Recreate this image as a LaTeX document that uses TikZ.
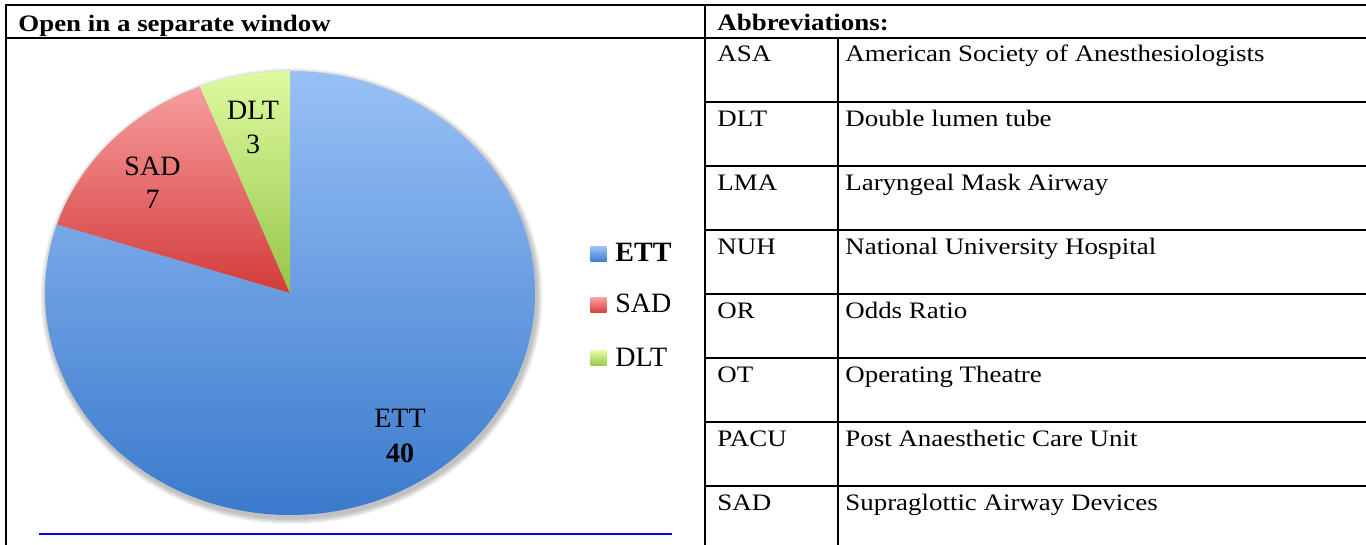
\documentclass[tikz,border=0pt]{standalone}
\usepackage{fontspec}
\setmainfont{Liberation Serif}[FakeStretch=1.14]
\newfontfamily\piefont{Liberation Serif}
\definecolor{ettTop}{RGB}{152,192,246}
\definecolor{ettBot}{RGB}{58,122,204}
\definecolor{sadTop}{RGB}{246,158,158}
\definecolor{sadBot}{RGB}{212,58,58}
\definecolor{dltTop}{RGB}{222,250,160}
\definecolor{dltBot}{RGB}{150,198,72}
\begin{document}
\begin{tikzpicture}[x=0.5pt,y=-0.5pt,
  rule/.style={line width=1pt, black, line cap=rect},
  celltext/.style={anchor=base west, inner sep=0pt, font=\fontsize{11.8}{14}\selectfont},
  headtext/.style={anchor=base west, inner sep=0pt, font=\fontsize{11.8}{14}\selectfont\bfseries},
  pielabel/.style={anchor=base, inner sep=0pt, font=\piefont\fontsize{14}{17}\selectfont},
  legtext/.style={anchor=base west, inner sep=0pt, font=\piefont\fontsize{14}{17}\selectfont},
  legsq/.style={minimum width=8pt, minimum height=7.5pt, inner sep=0pt},
  linkline/.style={line width=1pt, color={rgb,255:red,0;green,0;blue,255}}]
\useasboundingbox (0,0) rectangle (1366,545);
\fill[white] (0,0) rectangle (1366,545);
% table rules
\draw[rule] (6,5.5) -- (1366,5.5);
\draw[rule] (6,5.5) -- (6,545);
\draw[rule] (6,38) -- (1366,38);
\draw[rule] (705,5.5) -- (705,545);
\draw[rule] (838,38) -- (838,545);
\foreach \k in {1,...,7} \draw[rule] (705,{37.5+64.07*\k}) -- (1366,{37.5+64.07*\k});
% pie
\coordinate (pc) at (290,293);
\foreach \i in {1,...,6}
  \fill[black, opacity=0.045] ([shift={(0.8pt,-1.6pt)}]pc) ellipse [x radius={122.5pt+\i*0.5pt}, y radius={111pt+\i*0.5pt}];
\shade[top color=ettTop, bottom color=ettBot] (pc) -- ([shift={(90:122.5pt and 111pt)}]pc)
  arc[start angle=90, end angle=-198, x radius=122.5pt, y radius=111pt] -- cycle;
\shade[top color=sadTop, bottom color=sadBot] (pc) -- ([shift={(162:122.5pt and 111pt)}]pc)
  arc[start angle=162, end angle=111.6, x radius=122.5pt, y radius=111pt] -- cycle;
\shade[top color=dltTop, bottom color=dltBot] (pc) -- ([shift={(111.6:122.5pt and 111pt)}]pc)
  arc[start angle=111.6, end angle=90, x radius=122.5pt, y radius=111pt] -- cycle;
\node[pielabel] (dltname) at (253,119.5) {DLT};
\node[pielabel] (dltval) at (253,154) {3};
\node[pielabel] (sadname) at (152.5,175.5) {SAD};
\node[pielabel] (sadval) at (152.5,208.5) {7};
\node[pielabel] (ettname) at (400,428) {ETT};
\node[pielabel, font=\piefont\fontsize{14}{17}\selectfont\bfseries] (ettval) at (400,462) {40};
% legend
\node[legsq, top color=ettTop, bottom color=ettBot] (ettsq) at (598.5,254.5) {};
\node[legsq, top color=sadTop, bottom color=sadBot] (sadsq) at (598.5,305.5) {};
\node[legsq, top color=dltTop, bottom color=dltBot] (dltsq) at (598.5,358.5) {};
\node[legtext, font=\piefont\fontsize{14}{17}\selectfont\bfseries] (ettleg) at (615,262) {ETT};
\node[legtext] (sadleg) at (615,313) {SAD};
\node[legtext] (dltleg) at (615,366) {DLT};
% blue link line
\coordinate (blA) at (39,534);
\coordinate (blB) at (672,534);
\draw[linkline] (blA) -- (blB);
% texts
\node[headtext] (hdrleft) at (18,32) {Open in a separate window};
\node[headtext] (hdrright) at (717,31) {Abbreviations:};
\foreach \ab/\desc [count=\k from 0] in {ASA/American Society of Anesthesiologists,
  DLT/Double lumen tube, LMA/Laryngeal Mask Airway, NUH/National University Hospital,
  OR/Odds Ratio, OT/Operating Theatre, PACU/Post Anaesthetic Care Unit,
  SAD/Supraglottic Airway Devices} {
  \node[celltext] (ab\k) at (717,{62+64.07*\k}) {\ab};
  \node[celltext] (de\k) at (845,{62+64.07*\k}) {\desc};
}
\end{tikzpicture}
\end{document}
